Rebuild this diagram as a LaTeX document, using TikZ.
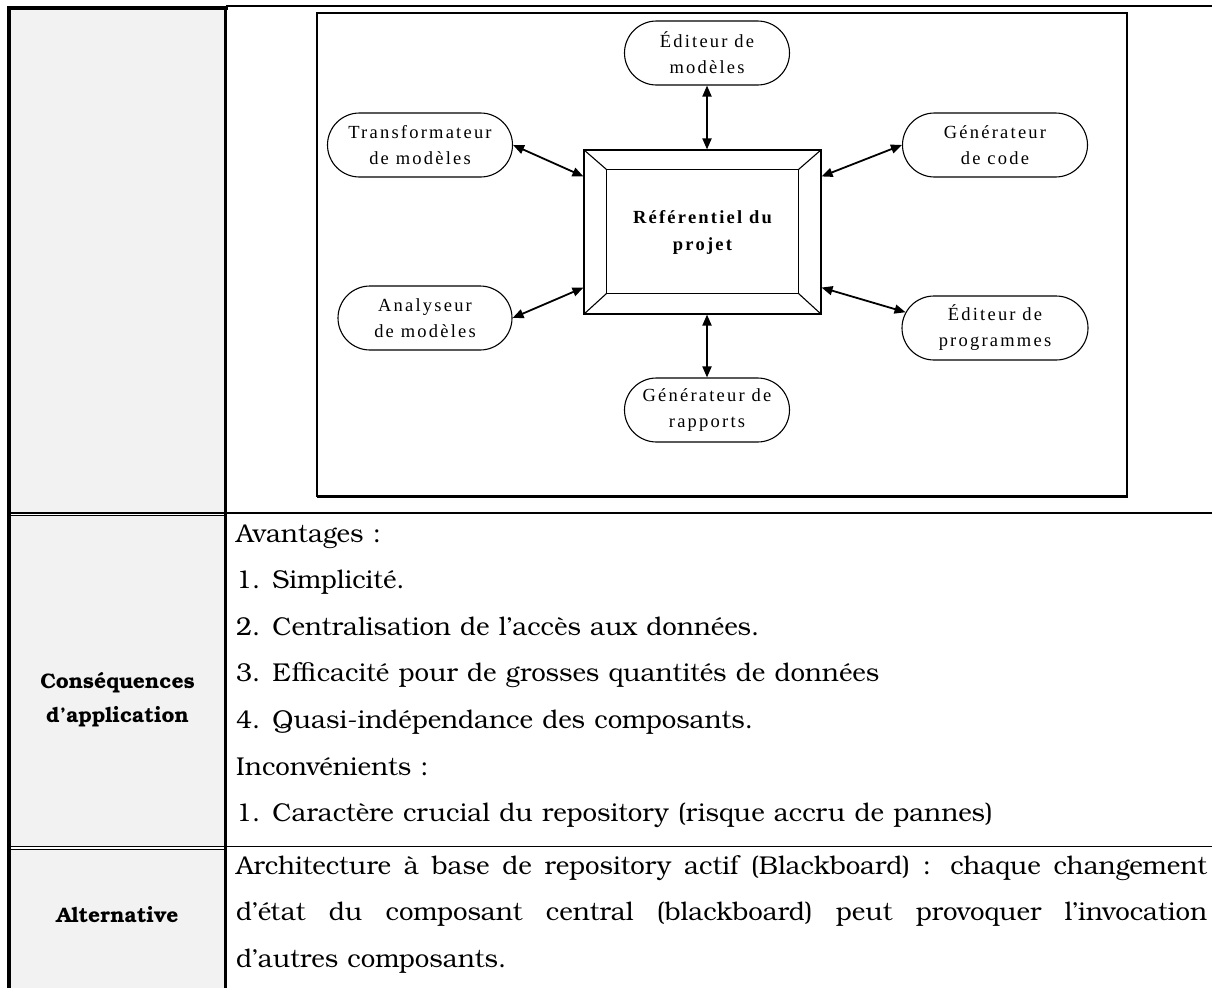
\documentclass[tikz,border=0pt]{standalone}
\usepackage{fontspec}
\setmainfont{texgyrebonum-regular.otf}[BoldFont=texgyrebonum-bold.otf, WordSpace=1.12]
\newfontfamily\garafont{Liberation Serif}[LetterSpace=12]
\usetikzlibrary{arrows.meta,shapes.misc}
\definecolor{cellgray}{HTML}{F2F2F2}
\begin{document}
\begin{tikzpicture}[x=1pt,y=-1pt,
  comp/.style={shape=rounded rectangle, draw, line width=1.1pt, inner sep=0pt,
    minimum height=64pt, align=center,
    font=\garafont\fontsize{18.5}{26}\selectfont},
  link/.style={line width=1.8pt, {Triangle[length=11pt,width=9pt]}-{Triangle[length=11pt,width=9pt]}},
  bevel/.style={line width=1.1pt},
  body/.style={anchor=base west, inner sep=0pt, font=\fontsize{25.8}{30}\selectfont},
  head/.style={anchor=base, inner sep=0pt, font=\bfseries\fontsize{21}{25}\selectfont},
  rule/.style={line width=#1}]
\useasboundingbox (0,0) rectangle (1212,988);

% grey header cells of the left column
\fill[cellgray] (9,8) rectangle (225.5,513);
\fill[cellgray] (9,516) rectangle (225.5,846.5);
\fill[cellgray] (9,849.5) rectangle (225.5,988);

% table rules
\draw[rule=2.3pt] (226,6.2) -- (1212,6.2);
\draw[rule=4pt] (7,8) -- (227.5,8);
\draw[rule=3.6pt] (8.7,6) -- (8.7,988);
\draw[rule=3.6pt] (225.3,6) -- (225.3,988);
\draw[rule=1.7pt] (7,513.3) -- (1212,513.3);
\draw[rule=1.2pt] (7,515.8) -- (227,515.8);
\draw[rule=1.7pt] (7,846.6) -- (1212,846.6);
\draw[rule=1.2pt] (7,849.1) -- (227,849.1);

% diagram frame
\draw[line width=2pt] (317,12.5) rectangle (1127,496);
\draw[line width=3.3pt] (317,496.3) -- (1128.2,496.3);

% central repository
\node[draw, line width=1.1pt, minimum width=237pt, minimum height=164pt, inner sep=0pt,
  align=center, font=\garafont\bfseries\fontsize{18.5}{27}\selectfont]
  (repo) at (702.5,232) {Référentiel du\\projet};
\draw[bevel] ([shift={(23pt,-20pt)}]repo.north west) rectangle ([shift={(-23pt,21pt)}]repo.south east);
\draw[bevel] (repo.north west) -- ([shift={(23pt,-20pt)}]repo.north west);
\draw[bevel] (repo.north east) -- ([shift={(-23pt,-20pt)}]repo.north east);
\draw[bevel] (repo.south east) -- ([shift={(-23pt,21pt)}]repo.south east);
\draw[bevel] (repo.south west) -- ([shift={(23pt,21pt)}]repo.south west);

% surrounding tools
\node[comp, minimum width=165pt] (edm)   at (707,53)  {Éditeur de\\modèles};
\node[comp, minimum width=185pt] (trans) at (420,145) {Transformateur\\de modèles};
\node[comp, minimum width=185pt] (code)  at (995,145) {Générateur\\de code};
\node[comp, minimum width=174pt] (ana)   at (425,318) {Analyseur\\de modèles};
\node[comp, minimum width=186pt] (prog)  at (995,328) {Éditeur de\\programmes};
\node[comp, minimum width=165pt] (rap)   at (707,410) {Générateur de\\rapports};

% two-way links
\draw[link] (edm.south) -- (edm.south |- repo.north);
\draw[link] (rap.north) -- (rap.north |- repo.south);
\draw[link] (trans.east) -- ([yshift=-27pt]repo.north west);
\draw[link] (code.west) -- ([yshift=-27pt]repo.north east);
\draw[link] (ana.east) -- ([yshift=27pt]repo.south west);
\draw[link] (prog.170) -- ([yshift=27pt]repo.south east);

% consequences row
\node[head] (hcons) at (117.5,688) {Conséquences};
\node[head] (happ)  at (117.5,722) {d’application};
\node[body] (l1) at (236,542) {Avantages :};
\node[body] (l2) at (236,588.5) {1. Simplicité.};
\node[body] (l3) at (236,635) {2. Centralisation de l’accès aux données.};
\node[body] (l4) at (236,681.7) {3. Efficacité pour de grosses quantités de données};
\node[body] (l5) at (236,728.3) {4. Quasi-indépendance des composants.};
\node[body] (l6) at (236,775) {Inconvénients :};
\node[body] (l7) at (236,821.7) {1. Caractère crucial du repository (risque accru de pannes)};

% alternative row
\node[head] (halt) at (117.5,922) {Alternative};
\node[body] (a1) at (236,874) {\makebox[971pt][s]{Architecture à base de repository actif (Blackboard) : chaque changement}};
\node[body] (a2) at (236,920) {\makebox[971pt][s]{d’état du composant central (blackboard) peut provoquer l’invocation}};
\node[body] (a3) at (236,967) {d’autres composants.};
\end{tikzpicture}
\end{document}
